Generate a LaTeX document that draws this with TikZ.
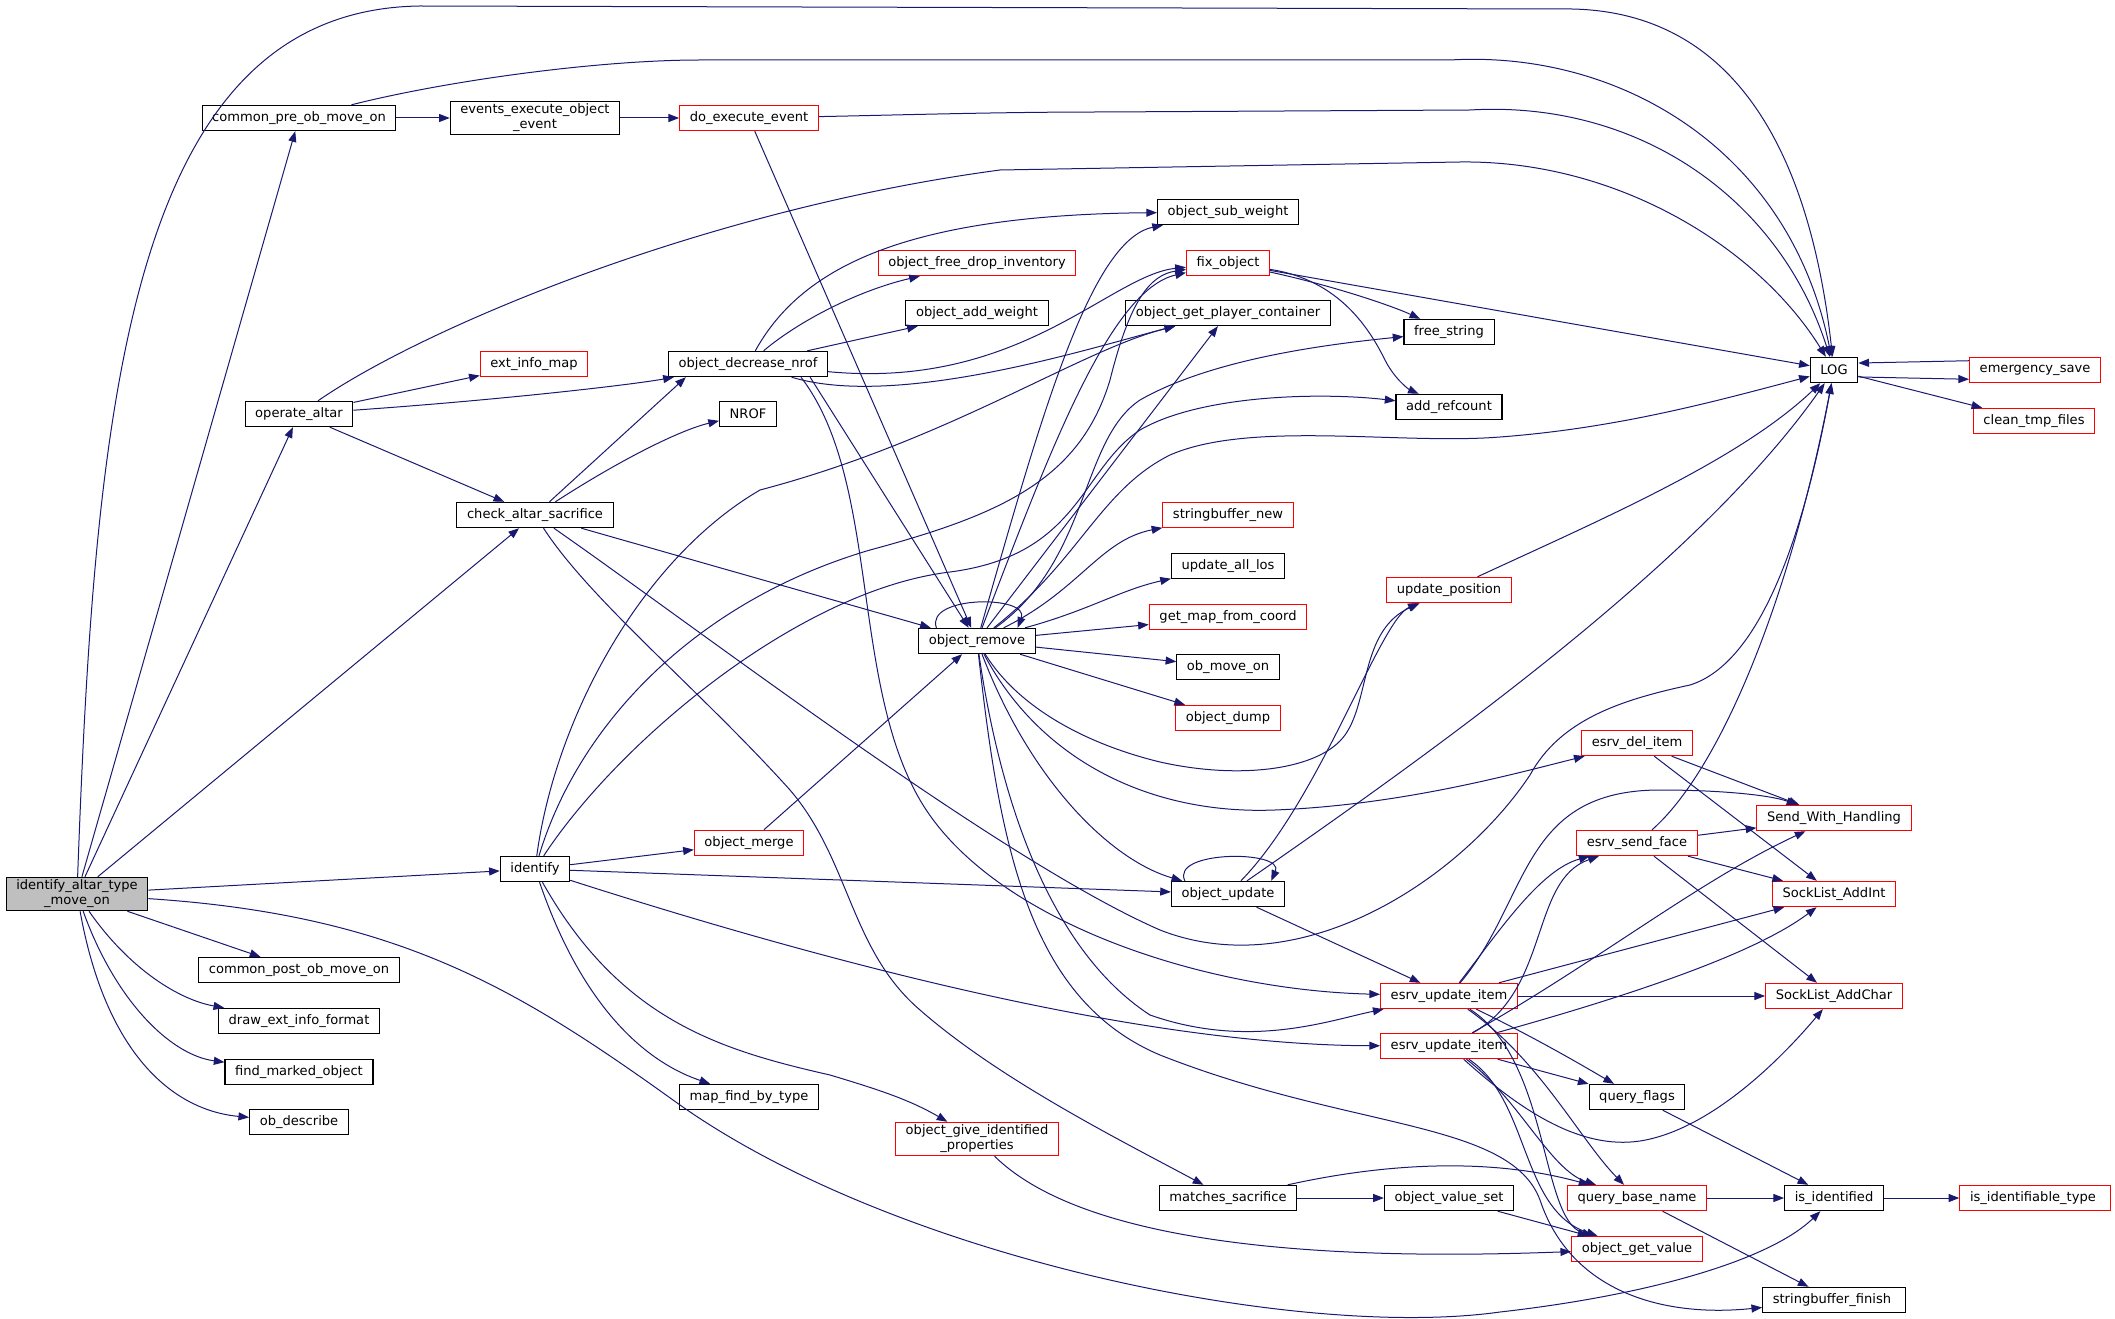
\documentclass[tikz,border=0pt]{standalone}
\usepackage{fontspec}
\setmainfont{DejaVu Sans}
\usetikzlibrary{arrows.meta}
\definecolor{edgeblue}{HTML}{191970}
\definecolor{rootgray}{HTML}{BFBFBF}

\begin{document}
\begin{tikzpicture}[x=0.75pt, y=-0.75pt,
    fnbox/.style={draw=black, line width=0.8pt, fill=white, align=center,
        font=\fontsize{9.8pt}{11.3pt}\selectfont, inner xsep=7.6pt, inner ysep=2pt, minimum height=19pt},
    fnred/.style={fnbox, draw=red},
    fnroot/.style={fnbox, fill=rootgray},
    call/.style={draw=edgeblue, line width=0.75pt, -{Triangle[length=8pt,width=6pt]}}]
\useasboundingbox (0,0) rectangle (2115,1319);

% Functions
\foreach \nm/\xx/\yy/\txt in {
    cpre/299/118/common\_pre\_ob\_move\_on,
    evex/535/118/{events\_execute\_object\\\_event},
    oprt/299/414/operate\_altar,
    chka/535/515/check\_altar\_sacrifice,
    odec/748/364/object\_decrease\_nrof,
    nrof/748/414/NROF,
    oadd/977/313/object\_add\_weight,
    osub/1228/212/object\_sub\_weight,
    ogpc/1228/313/object\_get\_player\_container,
    fstr/1449/332/free\_string,
    aref/1449/407/add\_refcount,
    LOG/1834/370/LOG,
    orem/977/641/object\_remove,
    ulos/1228/566/update\_all\_los,
    obmo/1228/667/ob\_move\_on,
    idf/535/869/identify,
    cpost/299/970/common\_post\_ob\_move\_on,
    dxif/299/1021/draw\_ext\_info\_format,
    fmo/299/1072/find\_marked\_object,
    obd/299/1122/ob\_describe,
    mfbt/749/1097/map\_find\_by\_type,
    oupd/1228/894/object\_update,
    qfl/1637/1097/query\_flags,
    msac/1228/1198/matches\_sacrifice,
    ovs/1449/1198/object\_value\_set,
    isid/1834/1198/is\_identified,
    sbf/1834/1300/stringbuffer\_finish
} {
    \node[fnbox] (\nm) at (\xx,\yy) {\txt};
}

% Functions with more calls not shown
\foreach \nm/\xx/\yy/\txt in {
    doex/749/118/do\_execute\_event,
    eim/534/364/ext\_info\_map,
    ofdi/977/263/object\_free\_drop\_inventory,
    fix/1228/263/fix\_object,
    esav/2035/370/emergency\_save,
    ctmp/2034/421/clean\_tmp\_files,
    sbn/1228/515/stringbuffer\_new,
    gmfc/1228/617/get\_map\_from\_coord,
    upos/1449/590/update\_position,
    odmp/1228/718/object\_dump,
    edel/1637/743/esrv\_del\_item,
    swh/1834/818/Send\_With\_Handling,
    esf/1637/843/esrv\_send\_face,
    sla/1834/894/SockList\_AddInt,
    eui1/1449/996/esrv\_update\_item,
    slc/1834/996/SockList\_AddChar,
    eui2/1449/1046/esrv\_update\_item,
    omrg/749/843/object\_merge,
    ogip/977/1139/{object\_give\_identified\\\_properties},
    qbn/1637/1198/query\_base\_name,
    ogv/1637/1249/object\_get\_value,
    iit/2035/1198/is\_identifiable\_type
} {
    \node[fnred] (\nm) at (\xx,\yy) {\txt};
}

\node[fnroot] (R) at (77,894) {identify\_altar\_type\\\_move\_on};

% Calls from the root
\draw[call] (R) .. controls (95,400) and (130,10) .. (420,6) -- (1560,9) .. controls (1760,5) and (1815,200) .. (LOG);
\draw[call] (R) -- (cpre);
\draw[call] (R) -- (oprt);
\draw[call] (R) -- (chka);
\draw[call] (R) -- (idf);
\draw[call] (R) -- (cpost);
\draw[call] (R) .. controls (130,970) and (180,1000) .. (dxif);
\draw[call] (R) .. controls (115,1000) and (170,1055) .. (fmo);
\draw[call] (R) .. controls (105,1050) and (170,1110) .. (obd);
\draw[call] (R) .. controls (400,915) and (520,990) .. (680,1105) .. controls (900,1260) and (1300,1340) .. (1500,1312) .. controls (1650,1295) and (1770,1260) .. (isid);

% Move-on events
\draw[call] (cpre) -- (evex);
\draw[call] (cpre) .. controls (450,80) and (600,60) .. (700,60) -- (1450,60) .. controls (1620,50) and (1790,150) .. (LOG);
\draw[call] (evex) -- (doex);
\draw[call] (doex) .. controls (900,115) and (1000,112) .. (1100,112) -- (1470,110) .. controls (1640,100) and (1780,200) .. (LOG);
\draw[call] (doex) -- (orem);

% Altar
\draw[call] (oprt) .. controls (420,330) and (700,210) .. (1000,170) -- (1460,162) .. controls (1620,160) and (1760,250) .. (LOG);
\draw[call] (oprt) -- (eim);
\draw[call] (oprt) .. controls (500,400) and (630,385) .. (odec);
\draw[call] (oprt) -- (chka);
\draw[call] (chka) -- (odec.-168);
\draw[call] (chka) .. controls (620,460) and (680,430) .. (nrof);
\draw[call] (chka) -- (orem);
\draw[call] (chka) .. controls (590,600) and (700,690) .. (790,790) .. controls (850,860) and (850,950) .. (920,1010) .. controls (1000,1080) and (1120,1140) .. (msac);
\draw[call] (chka) .. controls (700,630) and (1000,860) .. (1160,930) .. controls (1300,985) and (1460,880) .. (1530,775) .. controls (1560,720) and (1620,700) .. (1690,685) .. controls (1770,660) and (1810,500) .. (LOG);

% object_decrease_nrof
\draw[call] (odec) .. controls (800,270) and (900,215) .. (osub);
\draw[call] (odec) .. controls (800,320) and (860,290) .. (ofdi);
\draw[call] (odec) -- (oadd);
\draw[call] (odec) .. controls (1020,390) and (1110,275) .. (fix);
\draw[call] (odec) .. controls (900,410) and (1100,345) .. (ogpc);
\draw[call] (odec.-12) -- (orem);
\draw[call] (odec.-14) .. controls (880,480) and (850,680) .. (920,800) .. controls (990,920) and (1200,990) .. (eui1);

% identify
\draw[call] (idf) .. controls (555,720) and (640,560) .. (760,490) .. controls (950,440) and (1080,350) .. (ogpc);
\draw[call] (idf) .. controls (580,720) and (700,600) .. (870,550) .. controls (1000,515) and (1080,480) .. (1110,380) .. controls (1130,300) and (1150,275) .. (fix);
\draw[call] (idf) .. controls (620,740) and (800,590) .. (950,572) .. controls (1080,555) and (1080,470) .. (1140,430) .. controls (1200,395) and (1320,392) .. (aref);
\draw[call] (idf) -- (omrg);
\draw[call] (idf) -- (oupd);
\draw[call] (idf) .. controls (850,970) and (1150,1045) .. (eui2);
\draw[call] (idf) .. controls (580,1000) and (640,1060) .. (mfbt);
\draw[call] (idf) .. controls (620,1020) and (720,1050) .. (830,1075) .. controls (880,1090) and (910,1100) .. (ogip);
\draw[call] (omrg) -- (orem);

% object_remove
\draw[call] (orem.162) .. controls (925,595) and (1030,595) .. (orem.18);
\draw[call] (orem) .. controls (1040,420) and (1090,240) .. (osub);
\draw[call] (orem) .. controls (1050,450) and (1110,290) .. (fix);
\draw[call] (orem) -- (ogpc);
\draw[call] (orem) .. controls (1090,560) and (1080,440) .. (1140,400) .. controls (1210,360) and (1320,345) .. (fstr);
\draw[call] (orem) .. controls (1080,560) and (1100,490) .. (1170,455) .. controls (1250,420) and (1400,445) .. (1500,437) .. controls (1620,428) and (1720,400) .. (LOG);
\draw[call] (orem) .. controls (1080,590) and (1100,540) .. (sbn);
\draw[call] (orem) .. controls (1090,610) and (1120,590) .. (ulos);
\draw[call] (orem) -- (gmfc);
\draw[call] (orem) -- (obmo);
\draw[call] (orem) -- (odmp);
\draw[call] (orem) .. controls (1020,710) and (1090,745) .. (1160,762) .. controls (1240,780) and (1320,770) .. (1345,735) .. controls (1370,700) and (1360,630) .. (upos);
\draw[call] (orem) .. controls (1040,760) and (1150,815) .. (1275,810) .. controls (1400,805) and (1510,775) .. (edel);
\draw[call] (orem) .. controls (1030,780) and (1110,860) .. (oupd);
\draw[call] (orem) .. controls (1000,800) and (1050,950) .. (1150,1015) .. controls (1250,1050) and (1330,1020) .. (eui1);
\draw[call] (orem) .. controls (1000,850) and (1030,1000) .. (1160,1055) .. controls (1350,1130) and (1510,1120) .. (1540,1200) .. controls (1570,1290) and (1660,1318) .. (sbf);

% object_update
\draw[call] (oupd.163) .. controls (1170,850) and (1285,850) .. (oupd.17);
\draw[call] (oupd) .. controls (1320,800) and (1380,620) .. (upos);
\draw[call] (oupd) .. controls (1450,740) and (1700,560) .. (LOG);
\draw[call] (oupd) -- (eui1);

% fix_object, LOG
\draw[call] (fix) .. controls (1330,285) and (1390,305) .. (fstr);
\draw[call] (fix) .. controls (1340,280) and (1370,330) .. (1385,360) .. controls (1395,380) and (1410,390) .. (aref);
\draw[call] (fix) -- (LOG);
\draw[call] (LOG.-16) -- (esav.-172);
\draw[call] (esav.172) -- (LOG.16);
\draw[call] (LOG) -- (ctmp);
\draw[call] (upos) .. controls (1600,520) and (1740,460) .. (LOG);

% Socket items
\draw[call] (edel) -- (swh);
\draw[call] (edel) -- (sla);
\draw[call] (esf) -- (swh);
\draw[call] (esf) -- (sla);
\draw[call] (esf) -- (slc);
\draw[call] (esf) .. controls (1720,770) and (1790,600) .. (LOG);

\draw[call] (eui1) .. controls (1500,930) and (1540,870) .. (esf);
\draw[call] (eui1) .. controls (1530,900) and (1520,790) .. (1660,790) .. controls (1720,790) and (1770,795) .. (swh);
\draw[call] (eui1) -- (sla);
\draw[call] (eui1) -- (slc);
\draw[call] (eui1) .. controls (1540,1040) and (1590,1070) .. (qfl);
\draw[call] (eui1) .. controls (1540,1060) and (1580,1140) .. (qbn);
\draw[call] (eui1) .. controls (1550,1060) and (1540,1220) .. (ogv);

\draw[call] (eui2) .. controls (1550,990) and (1530,880) .. (esf);
\draw[call] (eui2) .. controls (1600,960) and (1700,880) .. (swh);
\draw[call] (eui2) .. controls (1650,990) and (1760,950) .. (sla);
\draw[call] (eui2) .. controls (1520,1110) and (1580,1150) .. (1640,1141) .. controls (1710,1130) and (1780,1060) .. (slc);
\draw[call] (eui2) -- (qfl);
\draw[call] (eui2) .. controls (1520,1100) and (1550,1170) .. (qbn);
\draw[call] (eui2) .. controls (1530,1100) and (1520,1210) .. (ogv);

% Names and values
\draw[call] (qfl) -- (isid);
\draw[call] (qbn) -- (isid);
\draw[call] (qbn) -- (sbf);
\draw[call] (isid) -- (iit);
\draw[call] (msac) -- (ovs);
\draw[call] (msac) .. controls (1400,1160) and (1500,1160) .. (qbn);
\draw[call] (ovs) -- (ogv);
\draw[call] (ogip) .. controls (1080,1240) and (1300,1262) .. (ogv);
\end{tikzpicture}
\end{document}
